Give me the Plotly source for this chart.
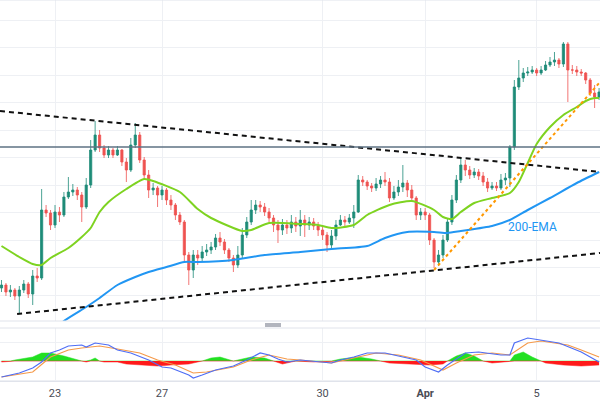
import pandas as pd
import plotly.graph_objects as go

# ---------------- DATA ----------------
# 2-hour bars, forex session (Sun 22:00 -> Fri 22:00), 22 Mar 2023 .. 6 Apr 2023
_all = pd.date_range("2023-03-22 00:00", "2023-04-06 04:00", freq="2h")
def _in_session(t):
    wd, h = t.weekday(), t.hour
    if wd == 4 and h >= 22:
        return False
    if wd == 5:
        return False
    if wd == 6 and h < 22:
        return False
    return True
times = [t.strftime("%Y-%m-%d %H:%M") for t in _all if _in_session(t)]

first_open = 1.0712
closes = [1.0715, 1.0708, 1.0710, 1.0704, 1.0710, 1.0716, 1.0706, 1.0724, 1.0722, 1.0790,
          1.0787, 1.0775, 1.0788, 1.0785, 1.0803, 1.0808, 1.0810, 1.0805, 1.0793, 1.0815,
          1.0850, 1.0865, 1.0852, 1.0845, 1.0850, 1.0845, 1.0850, 1.0838, 1.0830, 1.0855,
          1.0865, 1.0840, 1.0825, 1.0810, 1.0812, 1.0805, 1.0810, 1.0800, 1.0795, 1.0785,
          1.0778, 1.0745, 1.0730, 1.0745, 1.0742, 1.0748, 1.0750, 1.0753, 1.0762, 1.0758,
          1.0750, 1.0742, 1.0735, 1.0745, 1.0765, 1.0778, 1.0790, 1.0795, 1.0793, 1.0788,
          1.0782, 1.0775, 1.0770, 1.0775, 1.0772, 1.0778, 1.0774, 1.0780, 1.0775, 1.0778,
          1.0774, 1.0770, 1.0765, 1.0755, 1.0764, 1.0775, 1.0780, 1.0778, 1.0782, 1.0788,
          1.0820, 1.0818, 1.0814, 1.0812, 1.0816, 1.0820, 1.0818, 1.0802, 1.0808, 1.0813,
          1.0817, 1.0810, 1.0802, 1.0785, 1.0788, 1.0785, 1.0760, 1.0738, 1.0745, 1.0760,
          1.0778, 1.0800, 1.0820, 1.0835, 1.0830, 1.0825, 1.0828, 1.0824, 1.0818, 1.0812,
          1.0814, 1.0812, 1.0820, 1.0822, 1.0853, 1.0913, 1.0922, 1.0927, 1.0928, 1.0930,
          1.0927, 1.0930, 1.0935, 1.0938, 1.0940, 1.0936, 1.0956, 1.0930, 1.0930, 1.0928,
          1.0927, 1.0920, 1.0907, 1.0903, 1.0908]
highs = [1.0720, 1.0717, 1.0715, 1.0712, 1.0714, 1.0720, 1.0718, 1.0730, 1.0732, 1.0811,
         1.0795, 1.0790, 1.0795, 1.0793, 1.0808, 1.0823, 1.0816, 1.0813, 1.0808, 1.0822,
         1.0860, 1.0879, 1.0870, 1.0855, 1.0854, 1.0852, 1.0854, 1.0851, 1.0842, 1.0862,
         1.0877, 1.0868, 1.0843, 1.0830, 1.0817, 1.0814, 1.0814, 1.0812, 1.0805, 1.0797,
         1.0788, 1.0780, 1.0748, 1.0750, 1.0750, 1.0754, 1.0756, 1.0758, 1.0766, 1.0768,
         1.0761, 1.0752, 1.0745, 1.0754, 1.0772, 1.0783, 1.0800, 1.0800, 1.0799, 1.0797,
         1.0792, 1.0785, 1.0780, 1.0781, 1.0780, 1.0785, 1.0783, 1.0790, 1.0785, 1.0783,
         1.0782, 1.0778, 1.0775, 1.0768, 1.0770, 1.0780, 1.0785, 1.0784, 1.0786, 1.0795,
         1.0825, 1.0824, 1.0820, 1.0817, 1.0822, 1.0824, 1.0828, 1.0822, 1.0814, 1.0820,
         1.0835, 1.0820, 1.0815, 1.0804, 1.0792, 1.0792, 1.0787, 1.0762, 1.0750, 1.0765,
         1.0782, 1.0805, 1.0825, 1.0842, 1.0840, 1.0834, 1.0832, 1.0831, 1.0828, 1.0822,
         1.0818, 1.0818, 1.0826, 1.0827, 1.0855, 1.0920, 1.0940, 1.0932, 1.0933, 1.0934,
         1.0932, 1.0934, 1.0939, 1.0943, 1.0948, 1.0942, 1.0958, 1.0958, 1.0935, 1.0934,
         1.0931, 1.0928, 1.0922, 1.0915, 1.0912]
lows = [1.0708, 1.0704, 1.0703, 1.0700, 1.0687, 1.0707, 1.0702, 1.0695, 1.0718, 1.0720,
        1.0783, 1.0770, 1.0772, 1.0778, 1.0783, 1.0801, 1.0804, 1.0800, 1.0778, 1.0791,
        1.0812, 1.0848, 1.0848, 1.0842, 1.0842, 1.0842, 1.0844, 1.0834, 1.0818, 1.0828,
        1.0852, 1.0837, 1.0820, 1.0802, 1.0805, 1.0793, 1.0800, 1.0795, 1.0790, 1.0780,
        1.0775, 1.0738, 1.0715, 1.0722, 1.0735, 1.0738, 1.0744, 1.0746, 1.0750, 1.0754,
        1.0746, 1.0738, 1.0728, 1.0732, 1.0742, 1.0762, 1.0775, 1.0786, 1.0788, 1.0784,
        1.0778, 1.0768, 1.0757, 1.0765, 1.0766, 1.0767, 1.0768, 1.0764, 1.0763, 1.0770,
        1.0770, 1.0764, 1.0760, 1.0748, 1.0752, 1.0760, 1.0774, 1.0774, 1.0776, 1.0772,
        1.0787, 1.0814, 1.0810, 1.0808, 1.0809, 1.0812, 1.0814, 1.0798, 1.0800, 1.0804,
        1.0808, 1.0803, 1.0799, 1.0780, 1.0780, 1.0780, 1.0755, 1.0732, 1.0734, 1.0742,
        1.0758, 1.0775, 1.0797, 1.0817, 1.0824, 1.0821, 1.0822, 1.0820, 1.0814, 1.0808,
        1.0810, 1.0809, 1.0810, 1.0815, 1.0813, 1.0850, 1.0910, 1.0918, 1.0924, 1.0926,
        1.0924, 1.0925, 1.0929, 1.0933, 1.0934, 1.0932, 1.0933, 1.0898, 1.0926, 1.0924,
        1.0924, 1.0916, 1.0904, 1.0892, 1.0900]
opens = [first_open] + closes[:-1]

# 50-EMA (green) read at selected bars
ema50_idx = [0, 4, 7, 9, 11, 15, 18, 20, 22, 24, 28, 32, 34, 40, 44, 47, 54, 56, 60, 67, 71,
             74, 79, 82, 87, 92, 97, 99, 101, 103, 106, 110, 114, 116, 118, 120, 123, 126,
             129, 131, 133, 134]
ema50_val = [1.0754, 1.0743, 1.0736, 1.0735, 1.0742, 1.0752, 1.0763, 1.0772, 1.0788, 1.0798,
             1.0811, 1.0821, 1.0819, 1.0808, 1.0791, 1.0782, 1.0769, 1.0770, 1.0777, 1.0776,
             1.0775, 1.0772, 1.0775, 1.0785, 1.0795, 1.0799, 1.0790, 1.0783, 1.0781, 1.0788,
             1.0797, 1.0802, 1.0807, 1.0818, 1.0837, 1.0856, 1.0873, 1.0885, 1.0893, 1.0899,
             1.0902, 1.0902]
# 200-EMA (blue)
ema200_idx = [13, 14, 19, 22, 26, 30, 33, 37, 41, 44, 52, 59, 67, 74, 82, 86, 91, 97, 100,
              103, 110, 114, 118, 123, 129, 134]
ema200_val = [1.0674, 1.0679, 1.0693, 1.0702, 1.0715, 1.0723, 1.0728, 1.0733, 1.0738, 1.0738,
              1.0740, 1.0745, 1.0748, 1.0751, 1.0754, 1.0762, 1.0768, 1.0768, 1.0767, 1.0769,
              1.0774, 1.0780, 1.0790, 1.0802, 1.0817, 1.0828]

# drawings
hline_price = 1.0853
upper_tl_t = ["2023-03-21 23:20", "2023-04-06 04:25"]
upper_tl_p = [1.0889, 1.0828]
lower_tl_t = ["2023-03-22 07:00", "2023-04-06 04:25"]
lower_tl_p = [1.0686, 1.0747]
orange_tl_t = ["2023-04-03 02:00", "2023-04-06 04:25"]
orange_tl_p = [1.0730, 1.0918]
ema_label = "200-EMA"
ema_label_t = "2023-04-04 22:00"
ema_label_p = 1.0773

# MACD (units: pips)
macd_idx = [0, 4, 7, 9, 11, 13, 15, 18, 19, 21, 24, 26, 29, 33, 36, 38, 42, 43, 45, 48, 52, 55,
            58, 60, 62, 64, 67, 74, 76, 79, 82, 86, 89, 93, 95, 98, 100, 104, 107, 112, 114,
            115, 118, 121, 125, 130, 133, 134]
macd_val = [-16, -12, -7, -1, 8, 11, 15, 16, 14, 18, 16, 11, 8, 1, -6, -7, -14, -17, -14, -9,
            -5, 1, 8, 6, 2, -1, 1, -2, 1, 4, 8, 8, 5, 1, -6, -11, -4, 8, 9, 6, 6, 18, 23, 21,
            18, 9, 1, -1]
signal_idx = [0, 7, 11, 15, 18, 22, 26, 31, 35, 39, 43, 46, 52, 56, 60, 64, 67, 74, 80, 84, 89,
              94, 99, 102, 106, 110, 114, 118, 121, 127, 130, 134]
signal_val = [-16, -11, 4, 11, 13, 15, 12, 8, 1, -4, -12, -11, -6, 1, 6, 2, 1, -2, 4, 8, 6, 1,
              -9, -2, 6, 8, 6, 18, 20, 16, 11, 4]
hist_idx = [0, 2, 3, 7, 9, 11, 14, 17, 18, 19, 20, 21, 22, 23, 26, 28, 32, 35, 38, 42, 45, 47,
            49, 52, 54, 56, 59, 61, 63, 65, 66, 70, 74, 76, 80, 83, 85, 87, 93, 96, 99, 100,
            102, 104, 106, 108, 110, 113, 114, 115, 117, 119, 121, 122, 126, 130, 134]
hist_val = [-1, 0, 1, 4, 8, 8, 5, 1, 0, -1, 1, 3, 0, -1, -1, -3, -4, -5, -4, -3, 0, 3, 4, 0, 2,
            4, 3, 0, -3, -1, 0, -1, 0, 2, 4, 2, 0, -2, -3, -4, -3, 0, 5, 8, 5, 0, -2, -1, 0, 6,
            9, 4, 0, -2, -4, -5, -4]

tick_vals = ["2023-03-23 00:00", "2023-03-27 00:00", "2023-03-30 00:00", "2023-04-02 22:00",
             "2023-04-05 00:00"]
tick_text = ["23", "27", "30", "<b>Apr</b>", "5"]
x_range = ["2023-03-21 23:20", "2023-04-06 04:25"]

# ---------------- FIGURE ----------------
UP, DOWN = "#1e8c78", "#ef5350"
GRID = "#eef0f4"
FONT = "Roboto"

fig = go.Figure()

fig.add_trace(go.Candlestick(
    x=times, open=opens, high=highs, low=lows, close=closes,
    increasing=dict(line=dict(color=UP, width=0.8), fillcolor=UP),
    decreasing=dict(line=dict(color=DOWN, width=0.8), fillcolor=DOWN),
    whiskerwidth=0, xaxis="x", yaxis="y", showlegend=False, hoverinfo="skip"))

fig.add_trace(go.Scatter(x=[times[i] for i in ema200_idx], y=ema200_val, mode="lines",
                         line=dict(color="#2196f3", width=2, shape="spline", smoothing=0.6),
                         xaxis="x", yaxis="y", showlegend=False, hoverinfo="skip"))
fig.add_trace(go.Scatter(x=[times[i] for i in ema50_idx], y=ema50_val, mode="lines",
                         line=dict(color="#7ed321", width=2, shape="spline", smoothing=0.6),
                         xaxis="x", yaxis="y", showlegend=False, hoverinfo="skip"))

fig.add_trace(go.Scatter(x=upper_tl_t, y=upper_tl_p, mode="lines",
                         line=dict(color="#111111", width=2, dash="5px,4px"),
                         xaxis="x", yaxis="y", showlegend=False, hoverinfo="skip"))
fig.add_trace(go.Scatter(x=lower_tl_t, y=lower_tl_p, mode="lines",
                         line=dict(color="#111111", width=2, dash="5px,4px"),
                         xaxis="x", yaxis="y", showlegend=False, hoverinfo="skip"))
fig.add_trace(go.Scatter(x=orange_tl_t, y=orange_tl_p, mode="lines",
                         line=dict(color="#ff9800", width=2, dash="3px,3px"),
                         xaxis="x", yaxis="y", showlegend=False, hoverinfo="skip"))

# MACD histogram as filled areas
hx = [times[i] for i in hist_idx]
fig.add_trace(go.Scatter(x=hx, y=[max(v, 0) for v in hist_val], mode="lines", fill="tozeroy",
                         line=dict(color="#22e022", width=0.5), fillcolor="#22e022",
                         xaxis="x2", yaxis="y2", showlegend=False, hoverinfo="skip"))
fig.add_trace(go.Scatter(x=hx, y=[min(v, 0) for v in hist_val], mode="lines", fill="tozeroy",
                         line=dict(color="#ff1a1a", width=0.5), fillcolor="#ff1a1a",
                         xaxis="x2", yaxis="y2", showlegend=False, hoverinfo="skip"))
fig.add_trace(go.Scatter(x=[times[i] for i in signal_idx], y=signal_val, mode="lines",
                         line=dict(color="#f59a4a", width=1.2),
                         xaxis="x2", yaxis="y2", showlegend=False, hoverinfo="skip"))
fig.add_trace(go.Scatter(x=[times[i] for i in macd_idx], y=macd_val, mode="lines",
                         line=dict(color="#4f6ef5", width=1.2),
                         xaxis="x2", yaxis="y2", showlegend=False, hoverinfo="skip"))

PLOT_H = 381.0
main_dom = [(PLOT_H - 321) / PLOT_H, 1.0]
macd_dom = [0.0, (PLOT_H - 328) / PLOT_H]

rb = [dict(values=["2023-03-24 22:00", "2023-03-31 22:00"], dvalue=48 * 3600 * 1000)]

fig.update_layout(
    width=600, height=400,
    margin=dict(l=0, r=0, t=0, b=19),
    paper_bgcolor="white", plot_bgcolor="white",
    showlegend=False,
    font=dict(family=FONT, size=11, color="#4a4c55"),
    xaxis=dict(type="date", range=x_range, rangebreaks=rb, domain=[0, 1], anchor="y",
               tickvals=tick_vals, ticktext=tick_text, showticklabels=False,
               showgrid=True, gridcolor=GRID, gridwidth=1, zeroline=False,
               rangeslider=dict(visible=False), fixedrange=True),
    yaxis=dict(domain=main_dom, range=[1.0679, 1.1000], tick0=1.0980, dtick=0.00275,
               showticklabels=False, showgrid=True, gridcolor=GRID, zeroline=False,
               anchor="x"),
    xaxis2=dict(type="date", range=x_range, rangebreaks=rb, domain=[0, 1], anchor="y2",
                matches="x", tickvals=tick_vals, ticktext=tick_text, showticklabels=True,
                tickfont=dict(family=FONT, size=11, color="#4a4c55"),
                showgrid=True, gridcolor=GRID, zeroline=False, ticks="", ticklabelstandoff=2,
                showline=True, linecolor="#e0e3eb", linewidth=1),
    yaxis2=dict(domain=macd_dom, range=[-20, 33], tick0=0, dtick=19, showticklabels=False,
                showgrid=True, gridcolor=GRID, zeroline=False, anchor="x2"),
)

fig.add_shape(type="line", xref="x domain", yref="y", x0=0, x1=1, y0=hline_price, y1=hline_price,
              line=dict(color="#5e7283", width=1.5))
# pane borders / separator handle
for yp in [main_dom[0], macd_dom[1], 1.0]:
    fig.add_shape(type="line", xref="paper", yref="paper", x0=0, x1=1, y0=yp, y1=yp,
                  line=dict(color="#e0e3eb", width=1))
fig.add_shape(type="rect", xref="paper", yref="paper", x0=265 / 600, x1=281 / 600,
              y0=(PLOT_H - 327) / PLOT_H, y1=(PLOT_H - 323) / PLOT_H,
              line=dict(width=0), fillcolor="#b2b5be")

fig.add_annotation(x=ema_label_t, y=ema_label_p, xref="x", yref="y", text=ema_label,
                   showarrow=False, font=dict(family=FONT, size=12, color="#2196f3"))

fig.write_html("out.html", config={"displayModeBar": False},
               post_script="document.body.style.margin='0';document.body.style.overflow='hidden';")
